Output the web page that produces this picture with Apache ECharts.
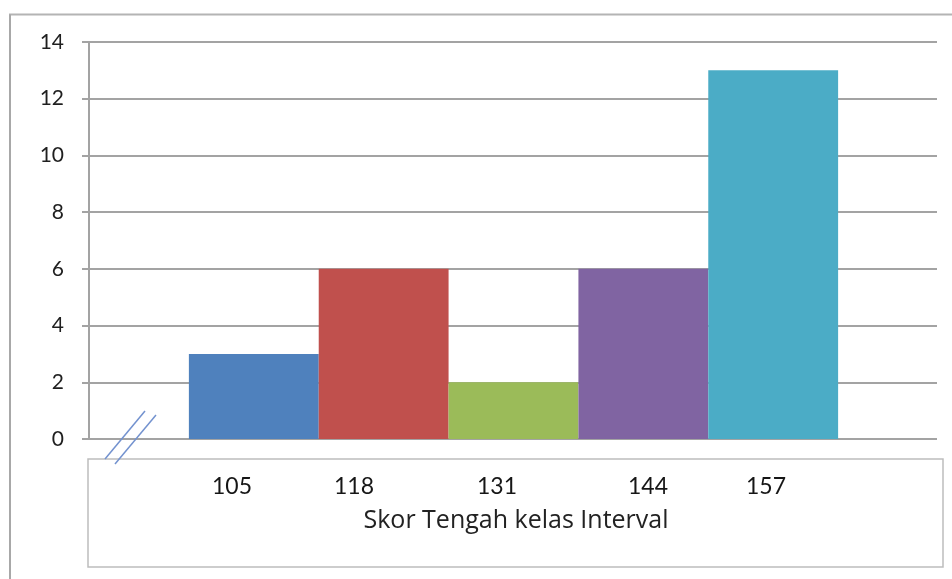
<!DOCTYPE html>
<html>
<head>
<meta charset="utf-8">
<script src="https://cdn.jsdelivr.net/npm/echarts@6/dist/echarts.min.js"></script>
<style>
  html, body { margin: 0; padding: 0; background: #ffffff; }
  #chart { width: 952px; height: 579px; }
</style>
</head>
<body>
<div id="chart"></div>
<script>
// Class midpoints (Skor Tengah) and frequencies of each class interval
const midpoints = [105, 118, 131, 144, 157];
const frequencies = [3, 6, 2, 6, 13];
const classWidth = 13;
const yTicks = [0, 2, 4, 6, 8, 10, 12, 14];
const axisTitle = 'Skor Tengah kelas Interval';

// Styling
const barColors = ['#4f81bd', '#c0504d', '#9bbb59', '#8064a2', '#4bacc6'];
const gridColor = '#a3a3a3';
const labelFont = 'Lato, "Open Sans", sans-serif';
const titleFont = '"Open Sans", Lato, sans-serif';
// horizontal placement of the midpoint labels inside the caption box
const captionLabelX = [232, 354, 497, 648, 766];

const chart = echarts.init(document.getElementById('chart'), null, { renderer: 'canvas' });

const seriesData = midpoints.map((m, i) => [m, frequencies[i]]);

const option = {
  backgroundColor: '#ffffff',
  animation: false,
  grid: { left: 89, right: 15, top: 42, bottom: 140, containLabel: false },
  xAxis: {
    type: 'value',
    min: midpoints[0] - classWidth / 2 - 10.0,
    max: midpoints[midpoints.length - 1] + classWidth / 2 + 9.9,
    show: false
  },
  yAxis: {
    type: 'value',
    min: yTicks[0],
    max: yTicks[yTicks.length - 1],
    interval: yTicks[1] - yTicks[0],
    axisLine: { show: true, lineStyle: { color: gridColor, width: 2 } },
    axisTick: { show: true, length: 7, lineStyle: { color: gridColor, width: 2 } },
    splitLine: { show: true, lineStyle: { color: gridColor, width: 2 } },
    axisLabel: {
      margin: 25,
      fontSize: 21,
      fontFamily: labelFont,
      color: '#1f1f1f'
    }
  },
  series: [{
    type: 'custom',
    data: seriesData,
    renderItem: function (params, api) {
      const m = api.value(0);
      const f = api.value(1);
      const topLeft = api.coord([m - classWidth / 2, f]);
      const bottomRight = api.coord([m + classWidth / 2, 0]);
      return {
        type: 'rect',
        shape: {
          x: topLeft[0],
          y: topLeft[1],
          width: bottomRight[0] - topLeft[0],
          height: bottomRight[1] - topLeft[1]
        },
        style: { fill: barColors[params.dataIndex % barColors.length] }
      };
    }
  }],
  graphic: [
    // outer chart frame (top and left edges)
    { type: 'line', silent: true, shape: { x1: 9, y1: 14.5, x2: 952, y2: 14.5 }, style: { stroke: '#b4b4b4', lineWidth: 2 } },
    { type: 'line', silent: true, shape: { x1: 10, y1: 14.5, x2: 10, y2: 579 }, style: { stroke: '#a8a8a8', lineWidth: 2 } },
    // caption box holding the midpoint labels
    { type: 'rect', silent: true, shape: { x: 88, y: 459, width: 855, height: 108 }, style: { fill: '#ffffff', stroke: '#bdbdbd', lineWidth: 1.5 }, z: 10 },
    // axis break marks
    { type: 'line', silent: true, shape: { x1: 145, y1: 411, x2: 105, y2: 459 }, style: { stroke: '#7392cf', lineWidth: 1.5 }, z: 11 },
    { type: 'line', silent: true, shape: { x1: 156, y1: 415, x2: 115, y2: 464 }, style: { stroke: '#7392cf', lineWidth: 1.5 }, z: 11 }
  ]
    .concat(midpoints.map((m, i) => ({
      type: 'text', silent: true, z: 12,
      x: captionLabelX[i], y: 487,
      style: {
        text: String(m), fill: '#161616', font: '23px ' + labelFont,
        align: 'center', verticalAlign: 'middle'
      }
    })))
    .concat([{
      type: 'text', silent: true, z: 12,
      x: 516, y: 521,
      style: {
        text: axisTitle, fill: '#222222', font: '25px ' + titleFont,
        align: 'center', verticalAlign: 'middle'
      }
    }])
};

chart.setOption(option);
</script>
</body>
</html>
